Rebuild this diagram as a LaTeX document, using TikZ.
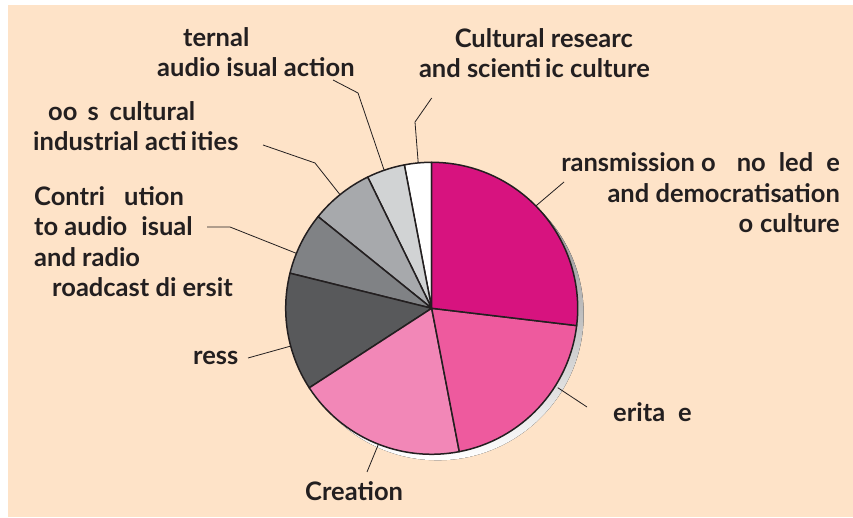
\documentclass[tikz,border=0pt]{standalone}
\usepackage{fontspec}
\setmainfont{Lato}
\usetikzlibrary{calc}
\definecolor{peach}{HTML}{FEE3C8}
\definecolor{ink}{HTML}{231F20}
\definecolor{shade}{HTML}{C8C9CB}
\definecolor{magentaA}{HTML}{D7137F}
\definecolor{pinkB}{HTML}{EE5A9E}
\definecolor{pinkC}{HTML}{F287B7}
\definecolor{greyD}{HTML}{58595B}
\definecolor{greyE}{HTML}{808285}
\definecolor{greyF}{HTML}{A7A9AC}
\definecolor{greyG}{HTML}{D1D3D4}
\newcommand{\gp}[1]{\hspace{#1pt}}
\begin{document}
\begin{tikzpicture}[x=1pt,y=1pt,
    lbl/.style={font=\bfseries\fontsize{25.5}{30.5}\selectfont, text=ink, inner sep=0pt},
    leader/.style={draw=ink, line width=0.8pt},
    wedge/.style={draw=ink, line width=1.5pt, line join=round}]
    \useasboundingbox (0,0) rectangle (853,518);
    \fill[peach] (8,1) rectangle (853,513);
    \coordinate (c) at (431.7,209.7);
    % shadow and slices
    \fill[shade] ($(c)+(6,-6)$) circle (146);
    \foreach \a/\b/\col in {90/100.8/white, 100.8/116/greyG, 116/141.1/greyF, 141.1/166.1/greyE,
        166.1/213/greyD, 213/280.9/pinkC, 280.9/353.2/pinkB, 353.2/450/magentaA}{
        \filldraw[wedge, fill=\col] (c) -- ++(\a:146) arc[start angle=\a, end angle=\b, radius=146] -- cycle;
    }
    % labels (base = baseline of the last line)
    \node[lbl, anchor=base west, align=left] (ext) at (157,441) {\hspace*{26pt}ternal\\audio isual action};
    \node[lbl, anchor=base east, align=right] (res) at (650,440) {Cultural researc\hspace*{17pt}\\and scienti\gp{4}ic culture};
    \node[lbl, anchor=base west, align=left] (books) at (33,367) {\hspace*{15pt}oo\gp{10}s\gp{11}cultural\\industrial acti\gp{4}ities};
    \node[lbl, anchor=base west, align=left] (contrib) at (34,221) {Contri\gp{19}ution\\to audio\gp{14}isual\\and radio\\\hspace*{18pt}roadcast di\gp{6}ersit};
    \node[lbl, anchor=base west] (press) at (193,153) {ress};
    \node[lbl, anchor=base west] (creation) at (305,17.3) {Creation};
    \node[lbl, anchor=base west] (heritage) at (613,96) {erita\gp{13}e};
    \node[lbl, anchor=base east, align=right] (trans) at (840,285) {ransmission o\gp{21}no\gp{13}led\gp{13}e\\and democratisation\\o\gp{7}culture};
    % leader lines
    \coordinate (extA) at (333,438);
    \coordinate (extB) at (358,425);
    \coordinate (extP) at ($(c)+(109:146)$);
    \coordinate (resA) at (431.7,420);
    \coordinate (resB) at (415,396);
    \coordinate (resP) at ($(c)+(95.3:146)$);
    \coordinate (booksA) at (263,373);
    \coordinate (booksB) at (315,355);
    \coordinate (booksP) at ($(c)+(128.9:146)$);
    \coordinate (contribA) at (207,291);
    \coordinate (contribB) at (230,291);
    \coordinate (contribP) at ($(c)+(157.9:146)$);
    \coordinate (pressA) at (248,160);
    \coordinate (pressP) at ($(c)+(195:146)$);
    \coordinate (creationA) at (367,46);
    \coordinate (creationP) at ($(c)+(248.6:146)$);
    \coordinate (heritageA) at (587,111);
    \coordinate (heritageP) at ($(c)+(-32.2:149)$);
    \coordinate (transA) at (564,336);
    \coordinate (transP) at ($(c)+(44.5:146)$);
    \draw[leader] (extA) -- (extB) -- (extP);
    \draw[leader] (resA) -- (resB) -- (resP);
    \draw[leader] (booksA) -- (booksB) -- (booksP);
    \draw[leader] (contribA) -- (contribB) -- (contribP);
    \draw[leader] (pressA) -- (pressP);
    \draw[leader] (creationA) -- (creationP);
    \draw[leader] (heritageA) -- (heritageP);
    \draw[leader] (transA) -- (transP);
\end{tikzpicture}
\end{document}
